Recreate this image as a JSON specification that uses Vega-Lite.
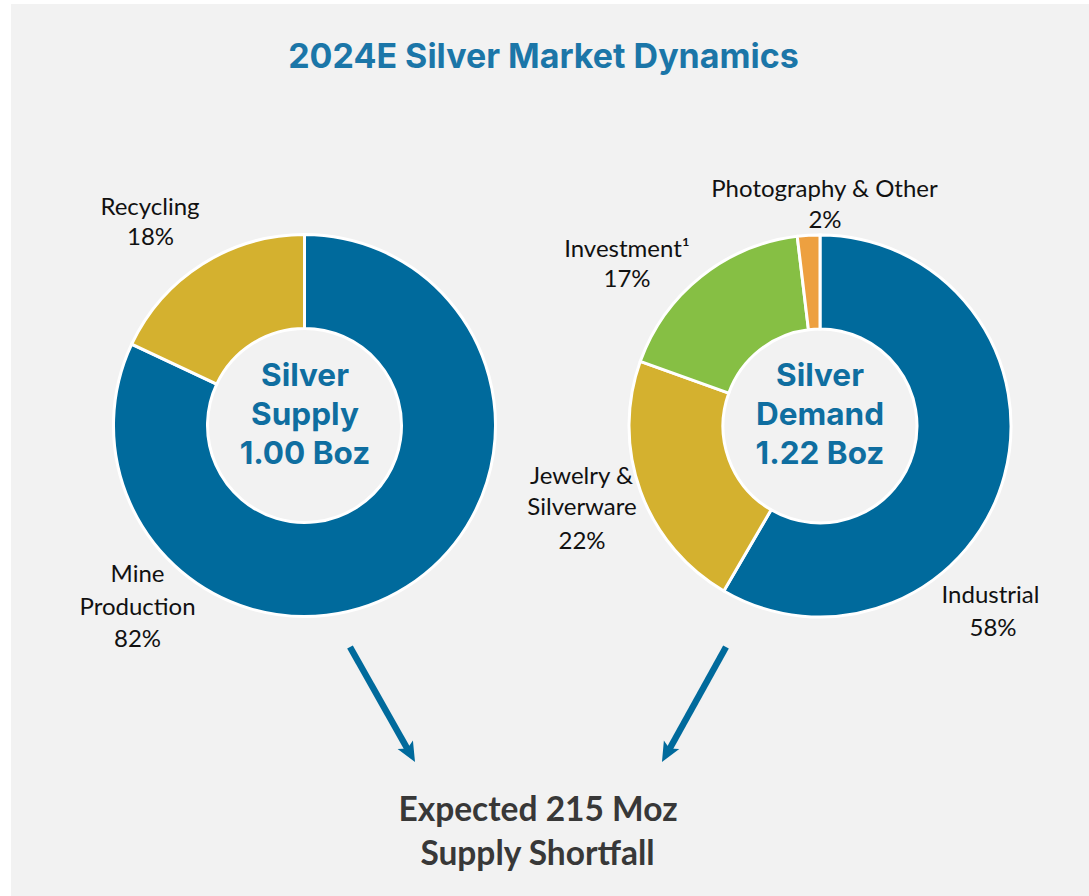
{
  "$schema": "https://vega.github.io/schema/vega-lite/v6.json",
  "width": 1078,
  "height": 892,
  "autosize": {"type": "none"},
  "padding": {"left": 11, "top": 4, "right": 0, "bottom": 0},
  "background": "#ffffff",
  "config": {"view": {"fill": "#f2f2f2", "stroke": null}},
  "datasets": {
    "slices": [
      {"chart": "Supply", "segment": "Mine Production", "share": 82, "rank": 1},
      {"chart": "Supply", "segment": "Recycling", "share": 18, "rank": 2},
      {"chart": "Demand", "segment": "Industrial", "share": 58.4, "rank": 1},
      {"chart": "Demand", "segment": "Jewelry & Silverware", "share": 22.1, "rank": 2},
      {"chart": "Demand", "segment": "Investment", "share": 17.6, "rank": 3},
      {"chart": "Demand", "segment": "Photography & Other", "share": 1.9, "rank": 4}
    ],
    "panels": [
      {"chart": "Supply", "cx": 304.5, "cy": 425.5},
      {"chart": "Demand", "cx": 820, "cy": 426}
    ],
    "title": [
      {"text": "2024E Silver Market Dynamics", "x": 543.5, "y": 58}
    ],
    "centre": [
      {"text": "Silver", "x": 305, "y": 377},
      {"text": "Supply", "x": 305, "y": 416},
      {"text": "1.00 Boz", "x": 305, "y": 455},
      {"text": "Silver", "x": 820, "y": 377},
      {"text": "Demand", "x": 820, "y": 416},
      {"text": "1.22 Boz", "x": 820, "y": 455}
    ],
    "labels": [
      {"text": "Recycling", "x": 150, "y": 208},
      {"text": "18%", "x": 150.5, "y": 238},
      {"text": "Mine", "x": 137.5, "y": 575},
      {"text": "Production", "x": 137.5, "y": 608},
      {"text": "82%", "x": 137.5, "y": 640},
      {"text": "Photography & Other", "x": 824.5, "y": 189.5},
      {"text": "2%", "x": 825, "y": 220.5},
      {"text": "Investment¹", "x": 627, "y": 250},
      {"text": "17%", "x": 627, "y": 280},
      {"text": "Jewelry &", "x": 581.5, "y": 476.5},
      {"text": "Silverware", "x": 582, "y": 508},
      {"text": "22%", "x": 582, "y": 541.5},
      {"text": "Industrial", "x": 990.5, "y": 596},
      {"text": "58%", "x": 993, "y": 629}
    ],
    "conclusion": [
      {"text": "Expected 215 Moz", "x": 538, "y": 811},
      {"text": "Supply Shortfall", "x": 537.5, "y": 855}
    ],
    "arrowShafts": [
      {"x": 350, "y": 647, "x2": 407.5, "y2": 749},
      {"x": 726, "y": 647, "x2": 669.5, "y2": 749}
    ],
    "arrowHeads": [
      {"x": 409.6, "y": 752.4, "angle": 150.5},
      {"x": 667.3, "y": 752.4, "angle": 209.1}
    ]
  },
  "layer": [
    {
      "data": {"name": "slices"},
      "transform": [
        {"stack": "share", "groupby": ["chart"], "sort": [{"field": "rank", "order": "ascending"}], "as": ["t0", "t1"]},
        {"lookup": "chart", "from": {"data": {"name": "panels"}, "key": "chart", "fields": ["cx", "cy"]}}
      ],
      "mark": {"type": "arc", "outerRadius": 191, "innerRadius": 97, "stroke": "#ffffff", "strokeWidth": 3},
      "encoding": {
        "x": {"field": "cx", "type": "quantitative", "scale": {"domain": [11, 1089], "nice": false, "zero": false}, "axis": null},
        "y": {"field": "cy", "type": "quantitative", "scale": {"domain": [4, 896], "reverse": true, "nice": false, "zero": false}, "axis": null},
        "theta": {"field": "t0", "type": "quantitative", "stack": null, "scale": {"domain": [0, 100], "range": [0, 6.283185307179586]}},
        "theta2": {"field": "t1"},
        "color": {
          "field": "segment",
          "type": "nominal",
          "scale": {
            "domain": ["Mine Production", "Recycling", "Industrial", "Jewelry & Silverware", "Investment", "Photography & Other"],
            "range": ["#006a9c", "#d4b12f", "#006a9c", "#d4b12f", "#86bf44", "#eda040"]
          },
          "legend": null
        }
      }
    },
    {
      "data": {"name": "arrowShafts"},
      "mark": {"type": "rule", "color": "#006a9c", "strokeWidth": 6.5, "strokeCap": "butt"},
      "encoding": {
        "x": {"field": "x", "type": "quantitative"},
        "y": {"field": "y", "type": "quantitative"},
        "x2": {"field": "x2"},
        "y2": {"field": "y2"}
      }
    },
    {
      "data": {"name": "arrowHeads"},
      "mark": {"type": "point", "shape": "M0,-1L0.8,0.8L0,0.4L-0.8,0.8Z", "size": 484, "filled": true, "opacity": 1, "color": "#006a9c", "strokeWidth": 0},
      "encoding": {
        "x": {"field": "x", "type": "quantitative"},
        "y": {"field": "y", "type": "quantitative"},
        "angle": {"field": "angle", "type": "quantitative", "scale": null}
      }
    },
    {
      "data": {"name": "title"},
      "mark": {"type": "text", "font": "Inter", "fontWeight": 700, "fontSize": 34, "color": "#1b76a8", "align": "center", "baseline": "middle"},
      "encoding": {
        "x": {"field": "x", "type": "quantitative"},
        "y": {"field": "y", "type": "quantitative"},
        "text": {"field": "text"}
      }
    },
    {
      "data": {"name": "centre"},
      "mark": {"type": "text", "font": "Inter", "fontWeight": 700, "fontSize": 31.5, "color": "#0f6ea0", "align": "center", "baseline": "middle"},
      "encoding": {
        "x": {"field": "x", "type": "quantitative"},
        "y": {"field": "y", "type": "quantitative"},
        "text": {"field": "text"}
      }
    },
    {
      "data": {"name": "labels"},
      "mark": {"type": "text", "font": "Lato", "fontSize": 24, "color": "#111111", "align": "center", "baseline": "middle"},
      "encoding": {
        "x": {"field": "x", "type": "quantitative"},
        "y": {"field": "y", "type": "quantitative"},
        "text": {"field": "text"}
      }
    },
    {
      "data": {"name": "conclusion"},
      "mark": {"type": "text", "font": "Lato", "fontWeight": 700, "fontSize": 33.5, "color": "#383838", "align": "center", "baseline": "middle"},
      "encoding": {
        "x": {"field": "x", "type": "quantitative"},
        "y": {"field": "y", "type": "quantitative"},
        "text": {"field": "text"}
      }
    }
  ]
}
